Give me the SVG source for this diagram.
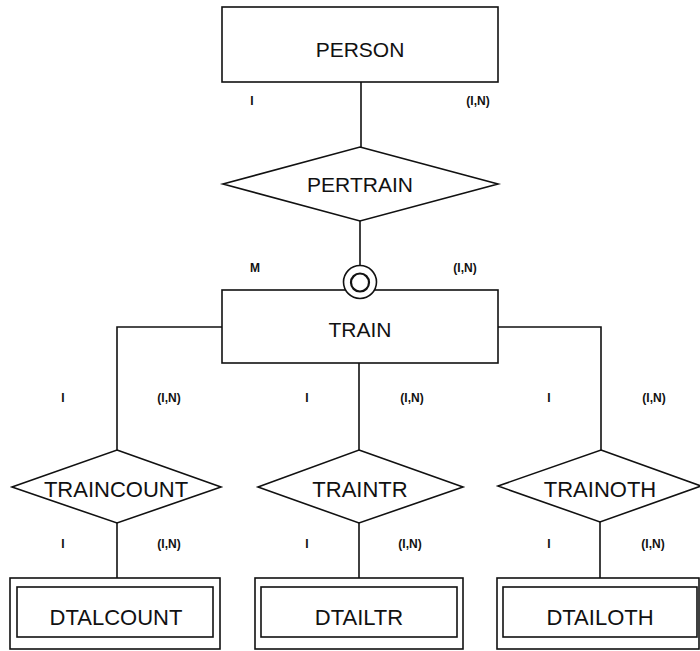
<svg xmlns="http://www.w3.org/2000/svg" width="700" height="651" viewBox="0 0 700 651">
<style>
.shape{fill:#fff;stroke:#111;stroke-width:1.6}
.line{fill:none;stroke:#111;stroke-width:1.6}
.name{font-family:"Liberation Sans",Arial,sans-serif;font-size:21px;fill:#111;text-anchor:middle}
.big{font-size:22px}
.card{font-family:"Liberation Sans",Arial,sans-serif;font-size:12px;font-weight:bold;fill:#111;text-anchor:middle}
</style>
<rect width="700" height="651" fill="#fff"/>
<g id="connectors">
<line class="line" x1="361" y1="82" x2="361" y2="147"/>
<line class="line" x1="360" y1="221" x2="360" y2="266"/>
<polyline class="line" points="222,327 117,327 117,450"/>
<line class="line" x1="359" y1="363" x2="359" y2="450"/>
<polyline class="line" points="498,327 601,327 601,450"/>
<line class="line" x1="117" y1="523" x2="117" y2="578"/>
<line class="line" x1="359" y1="523" x2="359" y2="578"/>
<line class="line" x1="600" y1="522" x2="600" y2="578"/>
</g>
<g id="PERSON">
<rect class="shape" x="222" y="7" width="276" height="75"/>
<text class="name" x="360" y="57">PERSON</text>
</g>
<g id="PERTRAIN">
<polygon class="shape" points="360,147 498,184 360,221 223,184"/>
<text class="name" x="360" y="192">PERTRAIN</text>
</g>
<g id="TRAIN">
<rect class="shape" x="222" y="290" width="276" height="73"/>
<text class="name" x="360" y="337">TRAIN</text>
<circle class="shape" cx="360" cy="282" r="16.5"/>
<circle cx="360" cy="282.5" r="9" fill="none" stroke="#111" stroke-width="2.2"/>
</g>
<g id="TRAINCOUNT">
<polygon class="shape" points="117,450 221,487 117,523 12,487"/>
<text class="name big" x="116" y="497">TRAINCOUNT</text>
</g>
<g id="TRAINTR">
<polygon class="shape" points="359,450 463,487 359,523 258,487"/>
<text class="name big" x="360" y="497">TRAINTR</text>
</g>
<g id="TRAINOTH">
<polygon class="shape" points="601,450 701,486 600,522 498,486"/>
<text class="name big" x="600" y="497">TRAINOTH</text>
</g>
<g id="DTALCOUNT">
<rect class="shape" x="10" y="578" width="210" height="71"/>
<rect class="shape" x="17" y="587" width="196" height="50"/>
<text class="name big" x="116" y="625">DTALCOUNT</text>
</g>
<g id="DTAILTR">
<rect class="shape" x="255" y="578" width="208" height="71"/>
<rect class="shape" x="261" y="587" width="196" height="50"/>
<text class="name big" x="359" y="625">DTAILTR</text>
</g>
<g id="DTAILOTH">
<rect class="shape" x="497" y="578" width="202" height="71"/>
<rect class="shape" x="503" y="587" width="194" height="50"/>
<text class="name big" x="600" y="625">DTAILOTH</text>
</g>
<g id="cardinalities">
<text class="card" x="252" y="105">I</text>
<text class="card" x="478" y="105">(I,N)</text>
<text class="card" x="255" y="272">M</text>
<text class="card" x="465" y="272">(I,N)</text>
<text class="card" x="63" y="402">I</text>
<text class="card" x="169" y="402">(I,N)</text>
<text class="card" x="307" y="402">I</text>
<text class="card" x="412" y="402">(I,N)</text>
<text class="card" x="549" y="402">I</text>
<text class="card" x="654" y="402">(I,N)</text>
<text class="card" x="63" y="548">I</text>
<text class="card" x="169" y="548">(I,N)</text>
<text class="card" x="307" y="548">I</text>
<text class="card" x="410" y="548">(I,N)</text>
<text class="card" x="549" y="548">I</text>
<text class="card" x="653" y="548">(I,N)</text>
</g>
</svg>
